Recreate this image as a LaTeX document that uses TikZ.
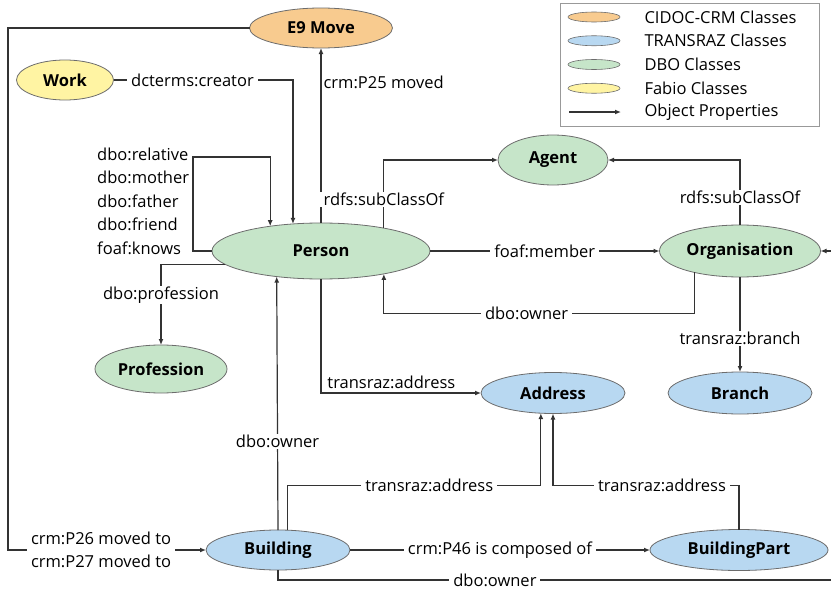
\documentclass[tikz,border=0pt]{standalone}
\usepackage{fontspec}
\setmainfont{Open Sans}
\usetikzlibrary{arrows.meta,positioning,shapes.geometric}
\definecolor{crmorange}{HTML}{F8CB8F}
\definecolor{trblue}{HTML}{B8D8F1}
\definecolor{dbogreen}{HTML}{C6E5C9}
\definecolor{fabyellow}{HTML}{FFF4A3}
\definecolor{edgegray}{HTML}{333333}
\begin{document}
\begin{tikzpicture}[x=1pt, y=-1pt, font=\fontsize{16.5}{23.5}\selectfont,
  cls/.style={ellipse, draw=gray!85!black, line width=0.8pt, inner sep=0pt, outer sep=0pt, font=\fontsize{16.5}{18}\selectfont\bfseries},
  arr/.style={draw=edgegray, line width=1.2pt, -{Latex[length=6pt,width=5pt]}},
  lbl/.style={fill=white, inner xsep=4pt, inner ysep=1pt}]
\useasboundingbox (0,0) rectangle (831,589);

\node[cls, fill=crmorange, minimum width=143pt, minimum height=40pt] (move) at (321,28) {E9 Move};
\node[cls, fill=fabyellow, minimum width=97pt, minimum height=40pt] (work) at (65,80) {Work};
\node[cls, fill=dbogreen, minimum width=218pt, minimum height=56pt] (person) at (321,251) {Person};
\node[cls, fill=dbogreen, minimum width=110pt, minimum height=50pt] (agent) at (553,160) {Agent};
\node[cls, fill=dbogreen, minimum width=161pt, minimum height=52pt] (org) at (740,251) {Organisation};
\node[cls, fill=dbogreen, minimum width=132pt, minimum height=48pt] (prof) at (161,369) {Profession};
\node[cls, fill=trblue, minimum width=144pt, minimum height=41pt] (address) at (553,393) {Address};
\node[cls, fill=trblue, minimum width=144pt, minimum height=42pt] (branch) at (740,393) {Branch};
\node[cls, fill=trblue, minimum width=144pt, minimum height=40pt] (building) at (278,550) {Building};
\node[cls, fill=trblue, minimum width=178pt, minimum height=41pt] (bpart) at (739,550) {BuildingPart};

\draw[gray!80, line width=0.8pt] (560,3) rectangle (819,126);
\foreach \c/\t [count=\i] in {crmorange/CIDOC-CRM Classes, trblue/TRANSRAZ Classes, dbogreen/DBO Classes, fabyellow/Fabio Classes}
{
\node[ellipse, draw=gray!85!black, line width=0.6pt, fill=\c, minimum width=52pt, minimum height=10pt, inner sep=0pt] (key\i) at (594, 17+23.75*\i-23.75) {};
\node[anchor=west] (keytext\i) at (641, 17+23.75*\i-23.75) {\t};
}
\coordinate (keyA) at (569,112);
\coordinate (keyB) at (621,112);
\draw[arr] (keyA) -- (keyB);
\node[anchor=west] (keytext5) at (641,112) {Object Properties};

\coordinate (leftRail) at (8,550);
\coordinate (loopTop) at (193,157);
\coordinate (rightRail) at (837,580);
\node[anchor=west, align=left, inner sep=0pt] (loopLabel) at (97,201) {dbo:relative\\dbo:mother\\dbo:father\\dbo:friend\\foaf:knows};

\draw[arr] (move.west) -| (leftRail) -- node[lbl, align=left, pos=0.47]{crm:P26 moved to\\crm:P27 moved to} (building.west);
\draw[arr] (work.east) -| node[lbl, pos=0.22]{dcterms:creator} (person.136);
\draw[arr] (person.west) -| (loopTop) -| (person.154.1);
\draw[arr] (person.north) -- node[pos=0.806, anchor=west, inner sep=2pt]{crm:P25 moved} (move.south);
\draw[arr] (person.20.4) |- node[lbl, pos=0.21]{rdfs:subClassOf} (agent.west);
\draw[arr] (org.north) |- node[lbl, pos=0.21]{rdfs:subClassOf} (agent.east);
\draw[arr] (person.east) -- node[lbl]{foaf:member} (org.west);
\draw[arr] (org.205.6) -- ++(0,41) -| node[lbl, pos=0.27]{dbo:owner} (person.340);
\draw[arr] (org.south) -- node[lbl, pos=0.65]{transraz:branch} (branch.north);
\draw[arr] (person.188.4) -| node[lbl, pos=0.69]{dbo:profession} (prof.north);
\draw[arr] (person.south) |- node[pos=0.72, above]{transraz:address} (address.west);
\draw[arr] (building.north) -- node[lbl, pos=0.35]{dbo:owner} (person.210.9);
\draw[arr] (building.65.6) -- ++(0,-45) -| node[lbl, pos=0.28]{transraz:address} (address.239.3);
\draw[arr] (bpart.north) -- ++(0,-44) -| node[lbl, pos=0.207]{transraz:address} (address.south);
\draw[arr] (building.east) -- node[lbl]{crm:P46 is composed of} (bpart.west);
\draw[arr] (building.south) |- node[lbl, inner ysep=0pt, pos=0.694]{dbo:owner} (rightRail) |- (org.east);
\end{tikzpicture}
\end{document}
